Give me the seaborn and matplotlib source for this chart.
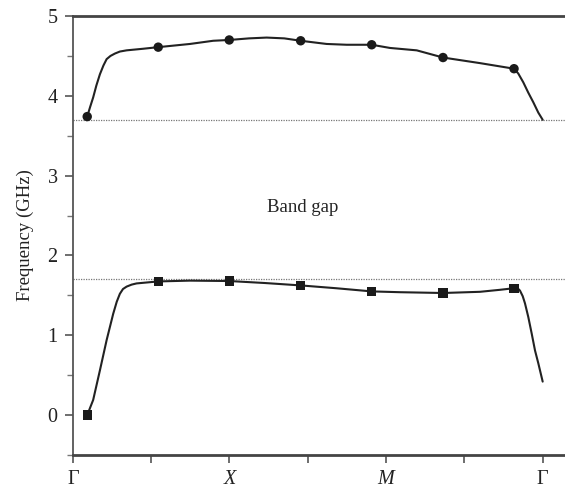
import matplotlib
matplotlib.use("Agg")
import matplotlib.pyplot as plt
import seaborn as sns
import pandas as pd

# ---- data ----
# upper band: smooth curve samples and marked points
upper_curve_k = [0.183, 0.220, 0.259, 0.300, 0.345, 0.390, 0.431, 0.480, 0.537, 0.600,
                 0.686, 0.898, 1.090, 1.495, 1.792, 1.997, 2.250, 2.474, 2.700, 2.909,
                 3.241, 3.497, 3.816, 4.050, 4.391, 4.727, 5.199, 5.634, 5.688, 5.752,
                 5.816, 5.880, 5.944, 6.000]
upper_curve_f = [3.74, 3.86, 3.98, 4.13, 4.27, 4.38, 4.46, 4.50, 4.53, 4.555,
                 4.57, 4.59, 4.61, 4.65, 4.69, 4.70, 4.72, 4.73, 4.72, 4.69,
                 4.65, 4.64, 4.64, 4.60, 4.57, 4.48, 4.41, 4.34, 4.28, 4.17,
                 4.04, 3.92, 3.79, 3.70]
upper_pts_k = [0.183, 1.090, 1.997, 2.909, 3.816, 4.727, 5.634]
upper_pts_f = [3.74, 4.61, 4.70, 4.69, 4.64, 4.48, 4.34]

# lower band
lower_curve_k = [0.183, 0.259, 0.345, 0.431, 0.515, 0.560, 0.600, 0.640, 0.686, 0.750,
                 0.813, 1.090, 1.495, 1.997, 2.453, 2.909, 3.360, 3.816, 4.177, 4.727,
                 5.199, 5.454, 5.634, 5.680, 5.710, 5.745, 5.774, 5.816, 5.860, 5.902,
                 5.944, 6.000]
lower_curve_f = [0.00, 0.19, 0.56, 0.94, 1.27, 1.42, 1.52, 1.58, 1.61, 1.635,
                 1.65, 1.675, 1.685, 1.68, 1.655, 1.625, 1.59, 1.55, 1.54, 1.53,
                 1.545, 1.57, 1.59, 1.59, 1.56, 1.49, 1.40, 1.23, 1.02, 0.81,
                 0.65, 0.42]
lower_pts_k = [0.183, 1.090, 1.997, 2.909, 3.816, 4.727, 5.634]
lower_pts_f = [0.00, 1.675, 1.68, 1.625, 1.55, 1.53, 1.59]

gap_edges = [3.70, 1.70]

x_ticks = [0, 1, 2, 3, 4, 5, 6]
x_labels = ["Γ", "", "X", "", "M", "", "Γ"]
y_ticks = [0, 1, 2, 3, 4, 5]

# ---- plotting ----
sns.set_style("ticks")
plt.rcParams["font.family"] = ["Liberation Serif", "DejaVu Serif"]

fig = plt.figure(figsize=(5.65, 4.93), dpi=100)
ax = fig.add_axes([0.129, 0.077, 0.871, 0.8905])

line_color = "#222222"
up_c = pd.DataFrame({"k": upper_curve_k, "f": upper_curve_f})
lo_c = pd.DataFrame({"k": lower_curve_k, "f": lower_curve_f})
up_p = pd.DataFrame({"k": upper_pts_k, "f": upper_pts_f})
lo_p = pd.DataFrame({"k": lower_pts_k, "f": lower_pts_f})

sns.lineplot(data=up_c, x="k", y="f", ax=ax, color=line_color, lw=1.5, sort=False)
sns.lineplot(data=lo_c, x="k", y="f", ax=ax, color=line_color, lw=1.5, sort=False)
sns.scatterplot(data=up_p, x="k", y="f", ax=ax, color="#1a1a1a", marker="o", s=46,
                edgecolor="none", zorder=5)
sns.scatterplot(data=lo_p, x="k", y="f", ax=ax, color="#1a1a1a", marker="s", s=46,
                edgecolor="none", zorder=5)

for g in gap_edges:
    ax.axhline(g, color="#777777", lw=0.9, ls=(0, (1, 1)), zorder=1)

ax.text(2.93, 2.6, "Band gap", ha="center", va="center", fontsize=13.5, color="#222222")

ax.set_xlim(0, 6.285)
ax.set_ylim(-0.5, 5.0)
ax.set_xticks(x_ticks)
ax.set_xticklabels(x_labels)
for t, lab in zip(ax.get_xticklabels(), x_labels):
    if lab in ("X", "M"):
        t.set_fontstyle("italic")
ax.set_yticks(y_ticks)
ax.set_yticks([-0.5, 0.5, 1.5, 2.5, 3.5, 4.5], minor=True)
ax.set_xlabel("")
ax.set_ylabel("Frequency (GHz)", fontsize=13.5, color="#222222", labelpad=10)

ax.tick_params(axis="both", which="major", direction="out", length=6, width=1.2,
               color="#555555", labelsize=14.5, labelcolor="#222222", pad=5)
ax.tick_params(axis="y", which="minor", direction="out", length=4, width=1.0, color="#777777")

ax.spines["right"].set_visible(False)
ax.spines["left"].set_color("#555555")
ax.spines["left"].set_linewidth(1.3)
for s in ("top", "bottom"):
    ax.spines[s].set_color("#444444")
    ax.spines[s].set_linewidth(2.0)

fig.savefig("out.png", dpi=100)
